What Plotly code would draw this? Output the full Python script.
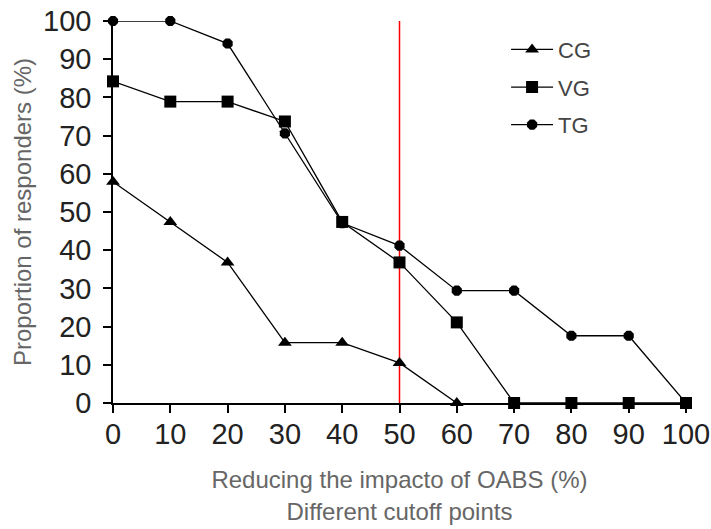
import plotly.graph_objects as go

cutoffs = [0, 10, 20, 30, 40, 50, 60, 70, 80, 90, 100]
cg_x = [0, 10, 20, 30, 40, 50, 60]
cg_y = [57.9, 47.4, 36.8, 15.8, 15.8, 10.5, 0]
vg_y = [84.2, 78.9, 78.9, 73.7, 47.4, 36.8, 21.1, 0, 0, 0, 0]
tg_y = [100, 100, 94.1, 70.6, 47.1, 41.2, 29.4, 29.4, 17.6, 17.6, 0]
tick_vals = [0, 10, 20, 30, 40, 50, 60, 70, 80, 90, 100]
cutoff_line = 50

FONT = "Liberation Sans, Arial, sans-serif"

fig = go.Figure()
fig.add_trace(go.Scatter(x=cg_x, y=cg_y, name="CG", mode="lines+markers",
                         line=dict(color="black", width=1.3),
                         marker=dict(symbol="triangle-up", size=12, color="black"),
                         legendgroup="cg", cliponaxis=False))
fig.add_trace(go.Scatter(x=cutoffs, y=vg_y, name="VG", mode="lines+markers",
                         line=dict(color="black", width=1.3),
                         marker=dict(symbol="square", size=12, color="black"),
                         legendgroup="vg", cliponaxis=False))
fig.add_trace(go.Scatter(x=cutoffs, y=tg_y, name="TG", mode="lines+markers",
                         line=dict(color="black", width=1.3),
                         marker=dict(symbol="octagon", size=11, color="black"),
                         legendgroup="tg", cliponaxis=False))

fig.add_shape(type="line", x0=cutoff_line, x1=cutoff_line, y0=0, y1=100.5,
              xref="x", yref="y", line=dict(color="red", width=1.5), layer="below")

fig.update_layout(
    width=711, height=529,
    margin=dict(l=113, r=25, t=21, b=126),
    paper_bgcolor="white", plot_bgcolor="white",
    font=dict(family=FONT, color="#222"),
    showlegend=True,
    legend=dict(x=0.686, y=0.98, xanchor="left", yanchor="top",
                font=dict(family=FONT, size=22, color="#444"),
                tracegroupgap=6, bgcolor="rgba(0,0,0,0)", itemwidth=42),
    xaxis=dict(range=[0, 100], tickvals=tick_vals, showgrid=False, zeroline=False,
               showline=True, linecolor="black", linewidth=1.5, automargin=False,
               ticks="outside", ticklen=8, tickwidth=1.5, tickcolor="black",
               ticklabeloverflow="allow", ticklabelstandoff=-4,
               tickfont=dict(family=FONT, size=29, color="#222"),
               title=dict(text="Reducing the impacto of OABS (%)<br>Different cutoff points",
                          font=dict(family=FONT, size=24, color="#666"), standoff=23)),
    yaxis=dict(range=[0, 100], tickvals=tick_vals, showgrid=False, zeroline=False,
               showline=True, linecolor="black", linewidth=1.5, automargin=False,
               ticks="outside", ticklen=8, tickwidth=1.5, tickcolor="black",
               ticklabeloverflow="allow", ticklabelstandoff=6,
               tickfont=dict(family=FONT, size=29, color="#222"),
               title=dict(text="Proportion of responders (%)",
                          font=dict(family=FONT, size=24, color="#666"), standoff=5)),
)

fig.write_html("out.html", config={"displayModeBar": False},
               post_script="document.body.style.margin='0';")
